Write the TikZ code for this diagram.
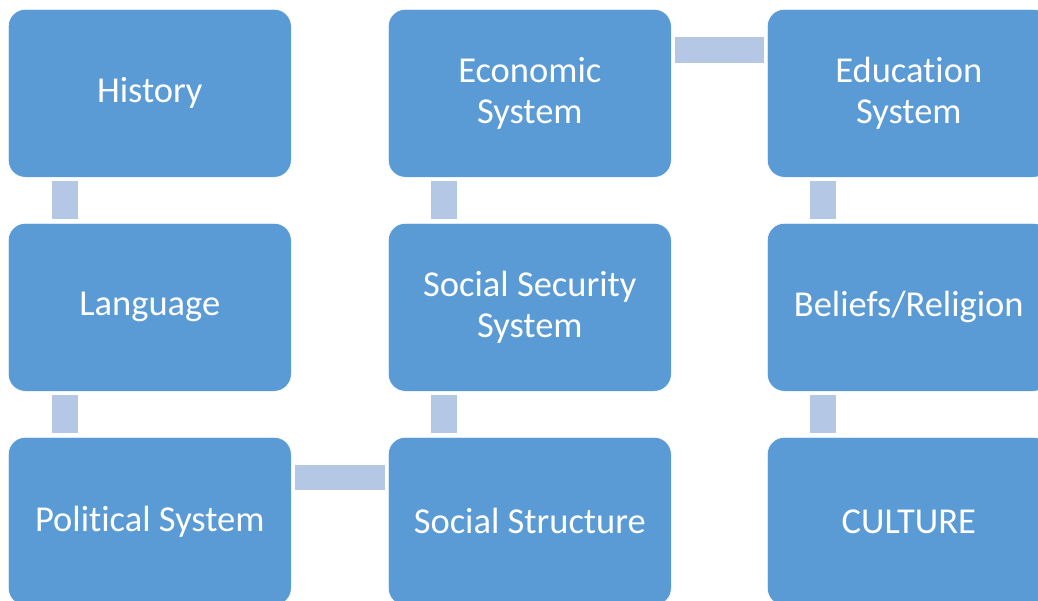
\documentclass[tikz,border=0pt]{standalone}
\usepackage{fontspec}
\setmainfont[Ligatures=NoCommon]{Carlito}
\definecolor{boxblue}{HTML}{5B9BD5}
\definecolor{linkblue}{HTML}{B4C8E6}
\begin{document}
\begin{tikzpicture}[x=1pt,y=-1pt,
  card/.style={rectangle, rounded corners=17pt, fill=boxblue, draw=white, line width=0.6pt,
    minimum width=283pt, minimum height=168pt, inner sep=0pt, text=white,
    align=center, font=\fontsize{36.5}{41}\selectfont, anchor=north west},
  vlink/.style={fill=linkblue, draw=none},
  hlink/.style={fill=linkblue, draw=none}]
\useasboundingbox (0,0) rectangle (1038,600);
\begin{scope}
\clip (0,0) rectangle (1038,600);
\node[card] (hist) at (8,9) {History};
\node[card] (lang) at (8,223) {Language};
\node[card] (pol) at (8,437) {Political System};
\node[card] (econ) at (388,9) {Economic\\System};
\node[card] (soc) at (388,223) {Social Security\\System};
\node[card] (struct) at (388,437) {Social Structure};
\node[card] (edu) at (767,9) {Education\\System};
\node[card] (bel) at (767,223) {Beliefs/Religion};
\node[card] (cul) at (767,437) {CULTURE};
% vertical links
\fill[vlink] ([xshift=44pt,yshift=-3pt]hist.south west) rectangle ([xshift=70pt,yshift=4pt]lang.north west);
\fill[vlink] ([xshift=44pt,yshift=-3pt]lang.south west) rectangle ([xshift=70pt,yshift=4pt]pol.north west);
\fill[vlink] ([xshift=43pt,yshift=-3pt]econ.south west) rectangle ([xshift=69pt,yshift=4pt]soc.north west);
\fill[vlink] ([xshift=43pt,yshift=-3pt]soc.south west) rectangle ([xshift=69pt,yshift=4pt]struct.north west);
\fill[vlink] ([xshift=43pt,yshift=-3pt]edu.south west) rectangle ([xshift=69pt,yshift=4pt]bel.north west);
\fill[vlink] ([xshift=43pt,yshift=-3pt]bel.south west) rectangle ([xshift=69pt,yshift=4pt]cul.north west);
% horizontal links
\fill[hlink] ([xshift=3pt,yshift=-28pt]pol.north east) rectangle ([xshift=-3pt,yshift=-53pt]struct.north west);
\fill[hlink] ([xshift=3pt,yshift=-28pt]econ.north east) rectangle ([xshift=-3pt,yshift=-54pt]edu.north west);
\end{scope}
\end{tikzpicture}
\end{document}
